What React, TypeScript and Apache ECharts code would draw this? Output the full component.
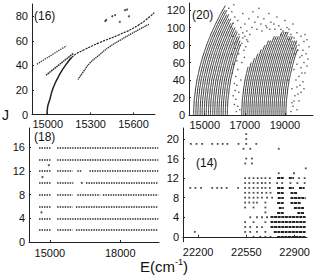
import React, { useEffect, useRef } from "react";
import * as echarts from "echarts";

// ---------- (16) ----------
const p16MainLow = [[14995, 0], [14999, 6], [15014, 12], [15039, 22], [15085, 33], [15142, 43], [15168, 46.5]];
const p16MainHigh = [[15168, 46.5], [15200, 49.5], [15250, 52.5], [15361, 58.5], [15499, 65], [15637, 73], [15745, 83]];
const p16Second = [[15211, 28.5], [15250, 35], [15292, 41.6], [15360, 48.5], [15430, 55], [15510, 60.8], [15588, 66], [15707, 73.5]];
const p16ShortUpper = [[14924, 41], [15131, 56]];
const p16ShortLower = [[14988, 32], [15181, 50]];
const p16Scatter = [[15402, 76], [15409, 77], [15451, 80], [15471, 81], [15504, 75.5], [15540, 85], [15554, 85.5], [15568, 80]];

// ---------- (20) ----------
// rotational ladder: J rows and energy offset from the band origin (cm-1)
const ladderJ = [0, 5, 10, 15, 20, 25, 30, 35, 40, 45, 50, 55, 60, 65, 70, 75, 80, 85, 90, 95, 100, 105, 110, 115, 120, 125];
const ladderOffset = [0, 0, 10, 20, 40, 70, 90, 130, 160, 210, 260, 310, 370, 430, 500, 570, 650, 730, 820, 910, 1010, 1110, 1220, 1330, 1450, 1580];
const band1Origin = [14450, 14560, 14660, 14770, 14870, 14980, 15080, 15190, 15290, 15400, 15500, 15610, 15710, 15820, 15920, 16030, 16130];
const band1TopJ = [125, 120, 120, 115, 115, 110, 110, 105, 105, 100, 100, 95, 95, 90, 90, 85, 80];
const band2Origin = [16850, 16950, 17050, 17150, 17250, 17350, 17450, 17550, 17650, 17750, 17850, 17950, 18050, 18150, 18250, 18350, 18450, 18550, 18650, 18750, 18850, 18950, 19050];
const band2TopJ = [55, 60, 65, 70, 75, 80, 85, 85, 90, 90, 90, 95, 95, 95, 95, 90, 90, 90, 85, 85, 85, 80, 75];
const p20Scatter = [
  [16200, 122], [16350, 118], [16500, 112], [16420, 105], [16650, 108], [16800, 100], [16550, 96], [16700, 92],
  [16900, 88], [16620, 84], [16780, 80], [16500, 76], [16950, 74], [16700, 70], [16600, 62], [16850, 60],
  [16650, 52], [16550, 44], [16800, 40], [16600, 34], [16700, 26], [16550, 18], [16650, 10], [16750, 6],
  [17000, 104], [17200, 110], [17100, 96], [17350, 100], [17500, 106], [17250, 92], [17650, 112], [17800, 104],
  [17950, 110], [18100, 100], [18300, 106], [18500, 98], [18700, 102], [18900, 96], [19100, 100], [19300, 92],
  [19450, 88], [19600, 94], [19800, 90], [19950, 84], [20100, 86], [19700, 80], [19900, 74], [20050, 70],
  [19750, 66], [19950, 60], [20150, 64], [19800, 54], [20000, 48], [19700, 44], [19900, 38], [19600, 32],
  [19800, 26], [19500, 22], [19700, 16], [19400, 10], [19600, 6], [19300, 4], [17400, 118], [17700, 122],
  [18200, 116], [18600, 112], [19000, 108], [19400, 104], [16450, 126], [16900, 116], [17150, 84], [17050, 78],
  [18800, 92], [19200, 86], [19350, 76], [19500, 70], [19250, 60], [19450, 52], [19150, 40], [19350, 30],
  [16300, 100], [16400, 90], [16480, 82], [16350, 70], [16450, 58], [16380, 48], [16480, 36], [16420, 22],
  [16520, 28], [16480, 12], [16580, 4], [16900, 94], [17000, 90], [17100, 86], [16850, 82], [16980, 66],
  [17600, 98], [17850, 96], [18050, 102], [18250, 98], [18450, 104], [18800, 98], [19050, 94], [19200, 98],
  [19550, 82], [19650, 74], [19850, 68], [19600, 58], [19850, 48], [20100, 56], [19550, 40], [19750, 34],
  [19950, 30], [19450, 16], [19650, 24], [19350, 14], [20200, 78], [20000, 92],
];

// ---------- (18) ----------
const p18Rows = [16, 14, 12, 10, 8, 6, 4, 2];
const p18Segments: number[][][] = [
  [[14543, 15072], [15315, 19620]],
  [[14543, 15072], [15315, 19620]],
  [[14543, 15072], [15315, 15970], [16170, 16360], [16690, 19620]],
  [[14543, 15072], [15315, 16000], [16540, 19620]],
  [[14543, 15072], [15315, 15970], [16170, 17150], [17260, 19620]],
  [[14543, 15072], [15315, 15970], [16110, 19620]],
  [[14543, 15072], [15315, 19620]],
  [[14543, 15072], [15315, 15970], [16110, 19620]],
];
const p18Singles = [[14958, 13], [14686, 11], [16360, 10], [14643, 5]];

// ---------- (14) ----------
const p14Points = [
  [22549, 21], [22549, 20],
  [22147, 19], [22188, 19], [22229, 19], [22302, 19], [22342, 19], [22378, 19], [22412, 19], [22493, 19], [22549, 19], [22622, 19],
  [22529, 18], [22578, 18], [22785, 18],
  [22549, 16], [22590, 16], [22542, 15], [22590, 15], [22981, 14], [22785, 13], [22895, 13],
  [22541, 12], [22571, 12], [22602, 12], [22632, 12], [22660, 12], [22688, 12], [22720, 12], [22932, 12], [22973, 12],
  [22541, 11], [22571, 11], [22602, 11], [22632, 11], [22663, 11], [22688, 11], [22720, 11], [22773, 11], [22810, 11], [22870, 11], [22920, 11], [22973, 11],
  [22143, 10], [22180, 10], [22221, 10], [22302, 10], [22338, 10], [22370, 10], [22407, 10], [22490, 10],
  [22541, 10], [22571, 10], [22602, 10], [22632, 10], [22663, 10], [22688, 10], [22720, 10],
  [22541, 9], [22571, 9], [22602, 9], [22632, 9], [22663, 9], [22695, 9], [22725, 9],
  [22541, 8], [22571, 8], [22602, 8], [22632, 8], [22663, 8], [22700, 8], [22737, 8],
  [22541, 7], [22571, 7], [22602, 7], [22627, 7], [22688, 7],
  [22541, 6], [22602, 6], [22688, 6], [22688, 5],
  [22578, 4], [22627, 4], [22663, 4], [22700, 4],
  [22541, 3], [22602, 3], [22688, 3],
  [22541, 2], [22578, 2], [22627, 2], [22663, 2],
  [22176, 1], [22541, 1], [22578, 1], [22627, 1], [22688, 1],
  [22602, 0], [22651, 0], [22688, 0], [22725, 0],
];
// dense runs of lines: [E start, E end, J]
const p14Runs = [
  [22773, 22822, 12], [22858, 22895, 12],
  [22773, 22822, 10], [22858, 22895, 10], [22932, 22973, 10],
  [22773, 22822, 9], [22870, 22920, 9],
  [22778, 22822, 8], [22870, 22980, 8],
  [22773, 22822, 7], [22870, 22945, 7],
  [22785, 22822, 6], [22895, 22968, 6],
  [22773, 22822, 5], [22920, 22968, 5],
  [22725, 22980, 4], [22725, 22980, 3], [22725, 22980, 2], [22749, 22980, 1], [22773, 22980, 0],
];

const FONT = "'Liberation Sans', Arial, sans-serif";
const INK = "#111";

function axisCommon(ticks: number[], min: number, max: number, margin: number) {
  return {
    min, max,
    axisLine: { lineStyle: { color: "#222", width: 1 } },
    axisTick: { inside: true, length: 2, customValues: ticks, lineStyle: { color: "#222" } },
    axisLabel: {
      customValues: ticks, color: INK, fontSize: 11, fontFamily: FONT, margin,
      formatter: (v: number) => String(v),
    },
    splitLine: { show: false },
  };
}

function lineSeries(data: number[][], gi: number, width: number, dash: any, smooth = true, color = "#222") {
  return {
    type: "line", xAxisIndex: gi, yAxisIndex: gi, data, smooth, showSymbol: false, silent: true,
    lineStyle: { color, width, type: dash },
  };
}

export default function App() {
  const ref = useRef<HTMLDivElement>(null);
  useEffect(() => {
    document.body.style.margin = "0";
    const chart = echarts.init(ref.current!, null, { renderer: "svg" });

    const series: any[] = [];
    // (16)
    series.push(lineSeries(p16MainLow, 0, 1.5, "solid"));
    series.push(lineSeries(p16MainHigh, 0, 1.2, [2.2, 1]));
    series.push(lineSeries(p16Second, 0, 1.3, [1.3, 0.7]));
    series.push(lineSeries(p16ShortUpper, 0, 1.2, [1.3, 1], false));
    series.push(lineSeries(p16ShortLower, 0, 1.5, [1.6, 0.6], false));
    series.push({ type: "scatter", xAxisIndex: 0, yAxisIndex: 0, data: p16Scatter, symbolSize: 2, itemStyle: { color: "#222" }, silent: true });

    // (20)
    const bandCurve = (origin: number, topJ: number) =>
      ladderJ.filter((j) => j <= topJ).map((j, k) => [origin + ladderOffset[k], j]);
    band1Origin.forEach((o, i) => series.push(lineSeries(bandCurve(o, band1TopJ[i]), 1, 1, "solid", true, "#333")));
    band2Origin.forEach((o, i) => series.push(lineSeries(bandCurve(o, band2TopJ[i]), 1, 1, "solid", true, "#333")));
    series.push({ type: "scatter", xAxisIndex: 1, yAxisIndex: 1, data: p20Scatter, symbolSize: 1.5, itemStyle: { color: "#333" }, silent: true });

    // (18)
    const rows18: any[] = [];
    p18Rows.forEach((j, i) => p18Segments[i].forEach(([a, b]) => rows18.push({ coords: [[a, j], [b, j]] })));
    series.push({
      type: "lines", coordinateSystem: "cartesian2d", xAxisIndex: 2, yAxisIndex: 2, data: rows18, silent: true,
      lineStyle: { color: "#222", width: 1.5, type: [1.4, 1.1], opacity: 1 },
    });
    series.push({ type: "scatter", xAxisIndex: 2, yAxisIndex: 2, data: p18Singles, symbolSize: 2, itemStyle: { color: "#222" }, silent: true });

    // (14)
    series.push({ type: "scatter", xAxisIndex: 3, yAxisIndex: 3, data: p14Points, symbol: "rect", symbolSize: 1.8, itemStyle: { color: "#222" }, silent: true });
    series.push({
      type: "lines", coordinateSystem: "cartesian2d", xAxisIndex: 3, yAxisIndex: 3, silent: true,
      data: p14Runs.map(([a, b, j]) => ({ coords: [[a, j], [b, j]] })),
      lineStyle: { color: "#222", width: 1.9, type: [3, 0.6], opacity: 1 },
    });

    chart.setOption({
      animation: false,
      grid: [
        { left: 32, top: 4, width: 123, height: 110.5 },
        { left: 189, top: 3, width: 124, height: 112 },
        { left: 29, top: 128, width: 130, height: 114 },
        { left: 183, top: 128, width: 124, height: 113.7 },
      ],
      xAxis: [
        { gridIndex: 0, type: "value", ...axisCommon([15000, 15300, 15600], 14890, 15750, 4) },
        { gridIndex: 1, type: "value", ...axisCommon([15000, 17000, 19000], 14215, 20400, 4) },
        { gridIndex: 2, type: "value", ...axisCommon([15000, 18000], 14113, 19650, 5) },
        { gridIndex: 3, type: "value", ...axisCommon([22200, 22550, 22900], 22090, 22990, 5) },
      ],
      yAxis: [
        { gridIndex: 0, type: "value", ...axisCommon([0, 20, 40, 60, 80], 0, 90, 4) },
        { gridIndex: 1, type: "value", ...axisCommon([0, 20, 40, 60, 80, 100, 120], 0, 128, 4) },
        { gridIndex: 2, type: "value", ...axisCommon([0, 4, 8, 12, 16], 0, 19.3, 4) },
        { gridIndex: 3, type: "value", ...axisCommon([0, 4, 8, 12, 16, 20], -1, 22.25, 4) },
      ],
      graphic: [
        { type: "text", left: 34, top: 10, style: { text: "(16)", fontSize: 12, fontFamily: FONT, fill: INK } },
        { type: "text", left: 192, top: 9, style: { text: "(20)", fontSize: 12, fontFamily: FONT, fill: INK } },
        { type: "text", left: 34, top: 131, style: { text: "(18)", fontSize: 12, fontFamily: FONT, fill: INK } },
        { type: "text", left: 196, top: 157, style: { text: "(14)", fontSize: 12, fontFamily: FONT, fill: INK } },
        { type: "text", left: 2, top: 108, style: { text: "J", fontSize: 14, fontFamily: FONT, fill: INK } },
        {
          type: "text", left: 140, top: 257,
          style: {
            text: "{a|E(cm}{s|-1}{a|)}", fontFamily: FONT, fill: INK,
            rich: {
              a: { fontSize: 15, fontFamily: FONT, fill: INK, verticalAlign: "bottom" },
              s: { fontSize: 9, fontFamily: FONT, fill: INK, verticalAlign: "top", padding: [0, 0, 8, 0] },
            },
          },
        },
      ],
      series,
    });
    return () => chart.dispose();
  }, []);
  return <div ref={ref} style={{ width: 319, height: 277 }} />;
}
